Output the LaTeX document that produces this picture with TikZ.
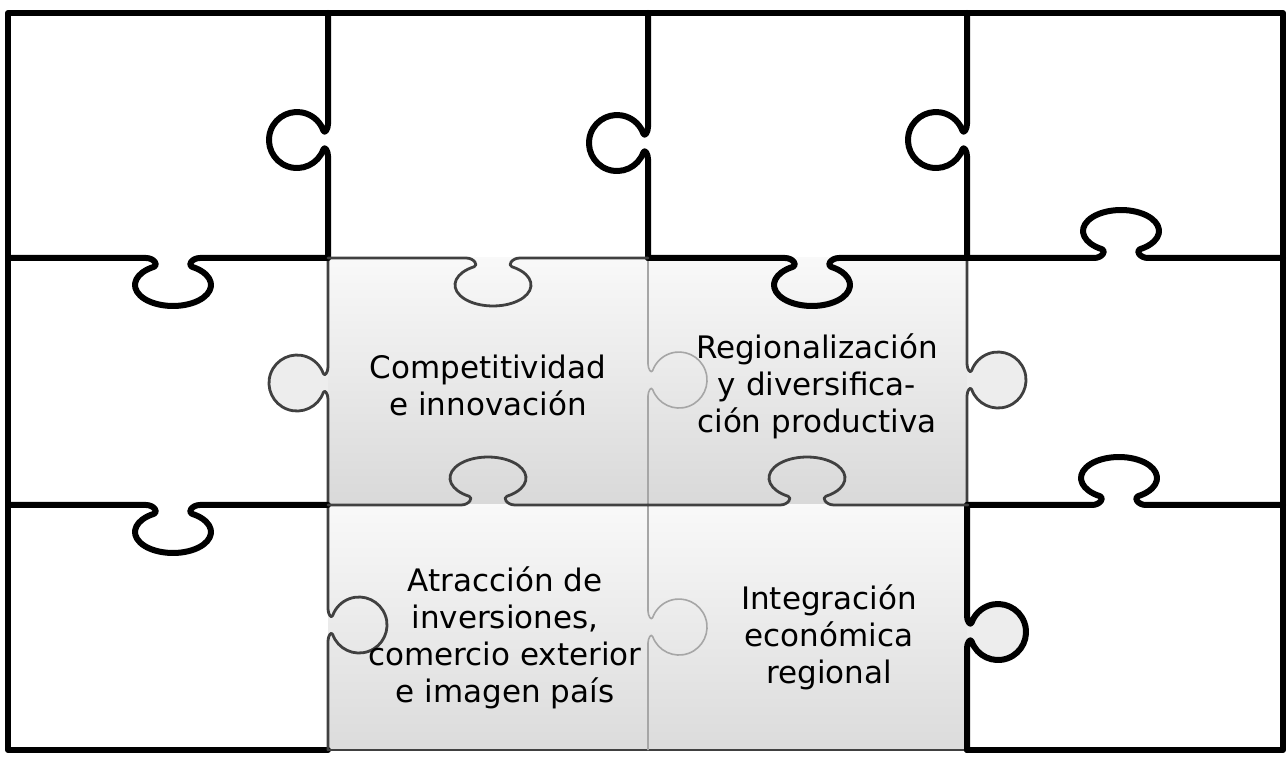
\documentclass[tikz,border=0pt]{standalone}
\usepackage{fontspec}
\setmainfont{DejaVu Sans}
\usetikzlibrary{positioning}

% path pieces for the two kinds of tabs (knob points to local +y)
\newcommand{\roundtab}[1]{-- (#1-16,0) .. controls (#1-11,0) and (#1-5.8,3.3) .. (#1-9.6,4.7)
  arc[start angle=250, end angle=-70, radius=28]
  .. controls (#1+5.8,3.3) and (#1+11,0) .. (#1+16,0)}
\newcommand{\mushtab}[1]{-- (#1-27,0) .. controls (#1-19,0) and (#1-14.2,7.3) .. (#1-19,8.8)
  arc[start angle=240, end angle=-60, x radius=38, y radius=21]
  .. controls (#1+14.2,7.3) and (#1+19,0) .. (#1+27,0)}

\tikzset{
  pics/rtab/.style args={#1/#2}{code={\draw[pic actions] (0,0) \roundtab{#2} -- (#1,0);}},
  pics/mtab/.style args={#1/#2}{code={\draw[pic actions] (0,0) \mushtab{#2} -- (#1,0);}},
  hardline/.style={line width=6pt, draw=black, line join=round, line cap=round},
  softline/.style={line width=2.8pt, draw=black!75, line join=round, line cap=round},
  innerline/.style={line width=1.6pt, draw=gray!70, line join=round},
  tabfill/.style={fill=gray!14},
  lbl/.style={align=center, font=\fontsize{31}{37}\selectfont}
}

\begin{document}
\begin{tikzpicture}[x=1pt, y=1pt]
\useasboundingbox (0,0) rectangle (1288,758);

% shaded pieces
\shade[top color=gray!5, bottom color=gray!30] (328,253) rectangle (967,500);
\shade[top color=gray!5, bottom color=gray!28] (328,8) rectangle (967,253);

% outer frame
\draw[hardline] (328,8) -- (8,8) -- (8,745) -- (1283,745) -- (1283,8) -- (967,8);
\draw[softline] (328,8) -- (967,8);

% vertical edges, knob to the left
\foreach \x/\y/\p in {328/500/118, 648/500/115, 967/500/118}
  \pic[hardline, rotate=90] at (\x,\y) {rtab=245/\p};
\pic[softline, tabfill, rotate=90] at (328,253) {rtab=247/122};

% vertical edges, knob to the right
\pic[innerline, rotate=90, yscale=-1] at (648,253) {rtab=247/125};
\pic[softline, tabfill, rotate=90, yscale=-1] at (967,253) {rtab=247/125};
\pic[softline, rotate=90, yscale=-1] at (328,8) {rtab=245/125};
\pic[innerline, rotate=90, yscale=-1] at (648,8) {rtab=245/123};
\pic[hardline, tabfill, rotate=90, yscale=-1] at (967,8) {rtab=245/118};

% horizontal edges, knob down
\foreach \x/\y/\p in {8/500/165, 648/500/164, 8/253/165}
  \pic[hardline, yscale=-1] at (\x,\y) {mtab=320/\p};
\pic[softline, yscale=-1] at (328,500) {mtab=320/165};

% horizontal edges, knob up
\pic[hardline] at (967,500) {mtab=316/154};
\pic[hardline] at (967,253) {mtab=316/152};
\foreach \x/\p in {328/160, 648/159}
  \pic[softline] at (\x,253) {mtab=320/\p};

% labels
\node[lbl] (compet) at (488,373) {Competitividad\\e innovación};
\node[lbl] (region) at (817,372) {Regionalización\\y diversifica-\\ción productiva};
\node[lbl] (atrac) at (505,120) {Atracción de\\inversiones,\\comercio exterior\\e imagen país};
\node[lbl] (integ) at (829,121) {Integración\\económica\\regional};
\end{tikzpicture}
\end{document}
